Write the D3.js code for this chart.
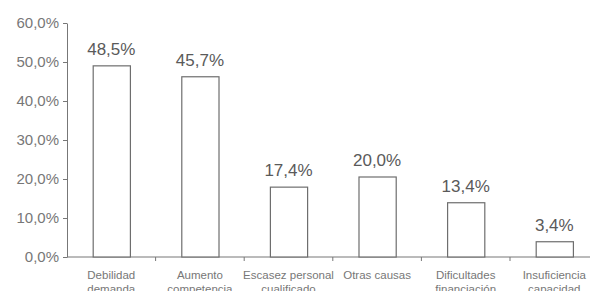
<!DOCTYPE html>
<html>
<head>
<meta charset="utf-8">
<script src="https://cdn.jsdelivr.net/npm/d3@7"></script>
<style>
  html, body { margin: 0; padding: 0; background: #fff; }
  svg { display: block; }
</style>
</head>
<body>
<svg id="chart"></svg>
<script>
// categories (two text lines each) and values
const categories = [
    ["Debilidad", "demanda"],
    ["Aumento", "competencia"],
    ["Escasez personal", "cualificado"],
    ["Otras causas", ""],
    ["Dificultades", "financiación"],
    ["Insuficiencia", "capacidad"]
];
const values = [48.5, 45.7, 17.4, 20.0, 13.4, 3.4];
const yTicks = [0, 10, 20, 30, 40, 50, 60];

const width = 590;
const height = 291;
const marginTop = 23;
const marginBottom = 34;
const marginLeft = 67;
const bandWidth = 88.6;

const fmt = v => v.toFixed(1).replace(".", ",") + "%";

const svg = d3.select("#chart")
    .attr("width", width)
    .attr("height", height)
    .attr("viewBox", `0 0 ${width} ${height}`)
    .style("font-family", "'Liberation Sans', Arial, sans-serif");

const x = d3.scaleBand()
    .domain(categories.map((d, i) => i))
    .range([marginLeft, marginLeft + bandWidth * categories.length])
    .paddingInner(0.58)
    .paddingOuter(0.29);

const xTick = d3.scaleLinear()
    .domain([0, categories.length])
    .range([marginLeft, marginLeft + bandWidth * categories.length]);

const y = d3.scaleLinear()
    .domain([0, 60])
    .range([height - marginBottom, marginTop]);

// y axis
svg.append("g")
    .attr("transform", `translate(${marginLeft},0)`)
    .call(d3.axisLeft(y).tickValues(yTicks).tickFormat(fmt).tickSize(4).tickSizeOuter(0).tickPadding(4))
    .call(g => g.select(".domain").attr("stroke", "#777"))
    .call(g => g.selectAll(".tick line").attr("stroke", "#777"))
    .call(g => g.selectAll(".tick text")
        .attr("fill", "#777")
        .style("font-size", "15px"));

// x axis line with separators between categories
const xg = svg.append("g");
xg.append("line")
    .attr("x1", marginLeft)
    .attr("x2", xTick(categories.length))
    .attr("y1", y(0))
    .attr("y2", y(0))
    .attr("stroke", "#777");
xg.selectAll("line.sep")
    .data(d3.range(1, categories.length))
    .join("line")
    .attr("class", "sep")
    .attr("x1", d => xTick(d))
    .attr("x2", d => xTick(d))
    .attr("y1", y(0))
    .attr("y2", y(0) + 4)
    .attr("stroke", "#777");

// bars
svg.append("g")
    .selectAll("rect")
    .data(values)
    .join("rect")
    .attr("x", (d, i) => x(i) + 0.5)
    .attr("y", d => y(d) - 2)
    .attr("width", x.bandwidth())
    .attr("height", d => y(0) - y(d) + 2)
    .attr("fill", "#fff")
    .attr("stroke", "#6e6e6e")
    .attr("stroke-width", 1.2);

// value labels
svg.append("g")
    .selectAll("text")
    .data(values)
    .join("text")
    .attr("x", (d, i) => x(i) + x.bandwidth() / 2)
    .attr("y", d => y(d) - 13)
    .attr("text-anchor", "middle")
    .attr("fill", "#5a5a5a")
    .style("font-size", "17px")
    .text(fmt);

// category labels
const cat = svg.append("g")
    .selectAll("text")
    .data(categories)
    .join("text")
    .attr("text-anchor", "middle")
    .attr("fill", "#777")
    .style("font-size", "11.5px");

cat.append("tspan")
    .attr("x", (d, i) => x(i) + x.bandwidth() / 2)
    .attr("y", 279)
    .text(d => d[0]);
cat.append("tspan")
    .attr("x", (d, i) => x(i) + x.bandwidth() / 2)
    .attr("y", 293)
    .text(d => d[1]);
</script>
</body>
</html>
